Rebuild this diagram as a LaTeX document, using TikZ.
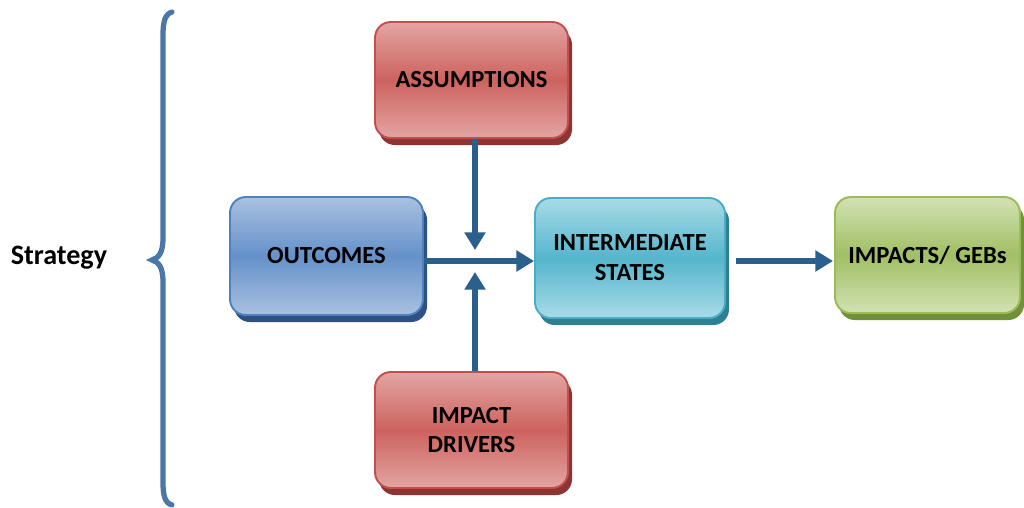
\documentclass[tikz,border=0pt]{standalone}
\usepackage{fontspec}
\setmainfont{Carlito}
\usetikzlibrary{arrows.meta,shadows}

\definecolor{flowblue}{HTML}{2B5F8E}
\definecolor{bracecol}{HTML}{4A76A8}
\definecolor{redlight}{HTML}{E3A5A3}
\definecolor{redmid}{HTML}{CD625E}
\definecolor{redline}{HTML}{C0504D}
\definecolor{redshade}{HTML}{8E3432}
\definecolor{bluelight}{HTML}{A9C1E1}
\definecolor{bluemid}{HTML}{6591C9}
\definecolor{blueline}{HTML}{4F81BD}
\definecolor{blueshade}{HTML}{2C5182}
\definecolor{cyanlight}{HTML}{A9DBE7}
\definecolor{cyanmid}{HTML}{55B5CC}
\definecolor{cyanline}{HTML}{4BACC6}
\definecolor{cyanshade}{HTML}{2F7F93}
\definecolor{greenlight}{HTML}{D2E2B3}
\definecolor{greenmid}{HTML}{A1BF64}
\definecolor{greenline}{HTML}{9BBB59}
\definecolor{greenshade}{HTML}{71903A}

\begin{document}
\begin{tikzpicture}[x=0.02cm,y=-0.02cm,
  box/.style={rounded corners=9pt,line width=1.1pt,align=center,
    font=\fontsize{14}{17}\selectfont\bfseries,inner sep=2pt},
  colbox/.style={box,draw=#1line,top color=#1light,bottom color=#1light,middle color=#1mid,
    drop shadow={shadow xshift=2.3pt,shadow yshift=-4pt,fill=#1shade,opacity=1}},
  flow/.style={line width=3.4pt,draw=flowblue,-{Triangle[length=10pt,width=11.5pt]}}]
\useasboundingbox (0,0) rectangle (1024,507);
% boxes
\node[colbox=red,minimum width=3.86cm,minimum height=2.32cm] (assump) at (471.5,80) {ASSUMPTIONS};
\node[colbox=red,minimum width=3.86cm,minimum height=2.32cm] (drivers) at (471.5,430) {IMPACT\\DRIVERS};
\node[colbox=blue,minimum width=3.86cm,minimum height=2.36cm] (outc) at (326.5,256) {OUTCOMES};
\node[colbox=cyan,minimum width=3.8cm,minimum height=2.4cm] (inter) at (630,258) {INTERMEDIATE\\STATES};
\node[colbox=green,minimum width=3.7cm,minimum height=2.32cm] (impacts) at (927.5,255) {IMPACTS/ GEBs};
% arrows
\coordinate (junc) at (475,261);
\coordinate (topin) at (475,250);
\coordinate (botin) at (475,272);
\coordinate (outend) at (833,261);
\draw[flow] (assump.south -| topin) -- (topin);
\draw[flow] (drivers.north -| botin) -- (botin);
\draw[flow] (outc.east |- junc) -- (inter.west |- junc);
\draw[flow] ([xshift=6pt]inter.east |- junc) -- (outend);
% brace
\draw[bracecol,line width=3pt,line cap=round] (172,12) .. controls (165,14) and (163,22) .. (163,35)
  -- (163,238) .. controls (163,254) and (158,258) .. (152,260)
  .. controls (158,262) and (163,266) .. (163,282) -- (163,482)
  .. controls (163,496) and (165,503) .. (172,505);
\node[font=\fontsize{16}{18}\selectfont\bfseries] (strat) at (59,258) {Strategy};
\end{tikzpicture}
\end{document}
